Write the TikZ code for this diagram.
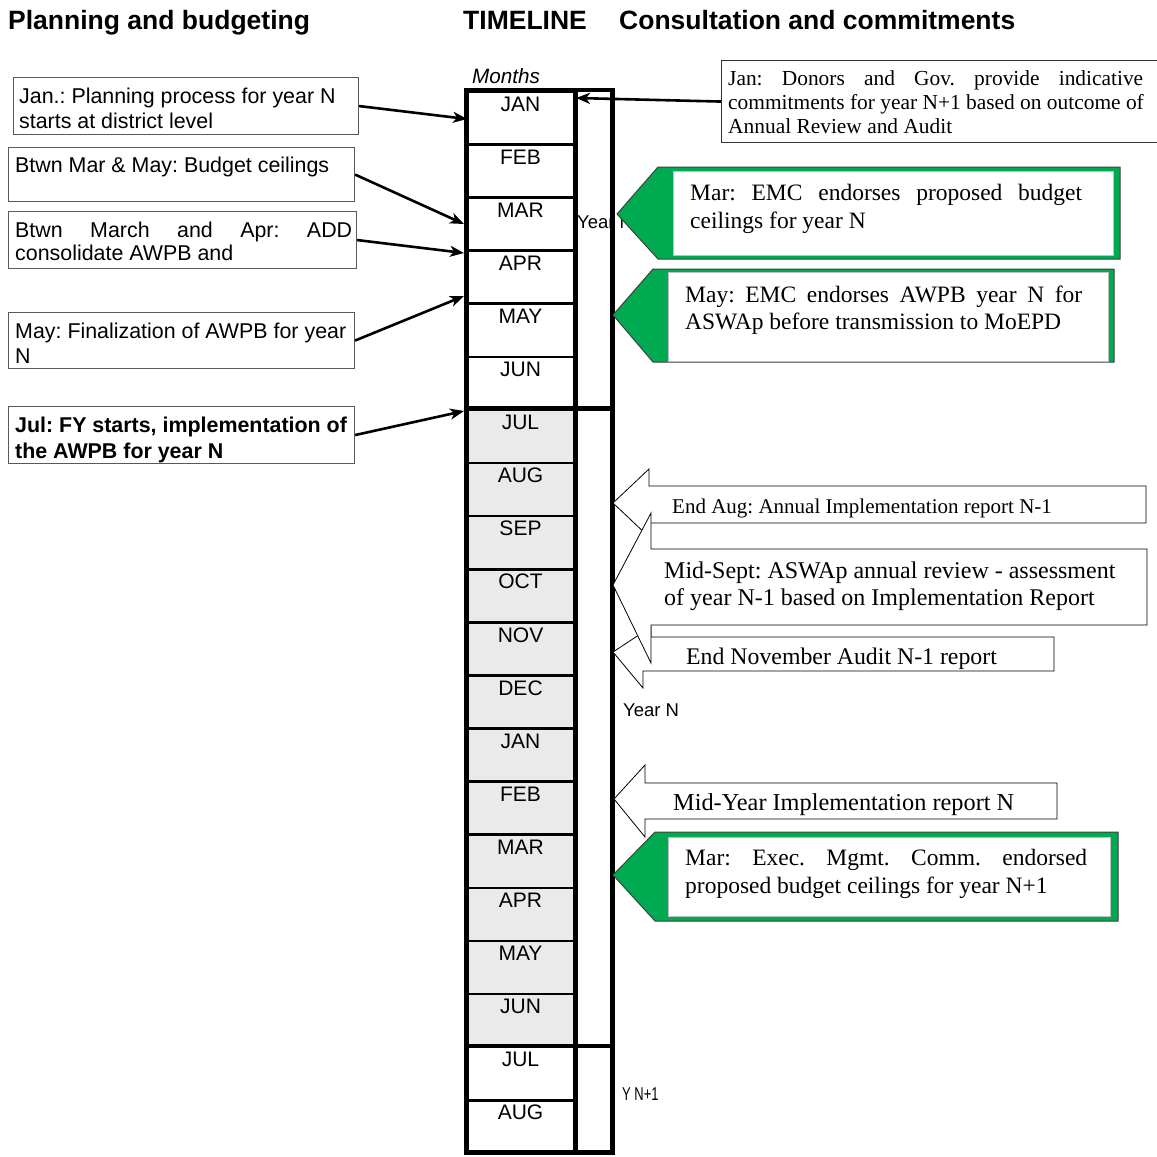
\documentclass[tikz,border=0pt]{standalone}
\usepackage{fontspec}
\usepackage{graphicx}
\setmainfont{Liberation Sans}
\newfontfamily\tnr{Liberation Serif}
\usetikzlibrary{arrows.meta}
\frenchspacing

\definecolor{callgreen}{RGB}{0,170,80}
\definecolor{fygrey}{RGB}{234,234,234}

% multi-line text whose baseline is the first line
\newcommand{\txtlines}[1]{\begin{tabular}[t]{@{}l@{}}#1\end{tabular}}
% a justified line of given width
\newcommand{\just}[2]{\makebox[#1][s]{#2}}

\tikzset{
  hdr/.style={font=\fontsize{26.5}{30}\selectfont\bfseries, anchor=base west, inner sep=0pt},
  lefttxt/.style={font=\fontsize{21.4}{25}\selectfont, anchor=base west, inner sep=0pt},
  leftbox/.style={draw=black!65, line width=1.1pt, anchor=north west, inner sep=0pt},
  serif/.style 2 args={font=\tnr\fontsize{#1}{#2}\selectfont, anchor=base west, inner sep=0pt},
  cell/.style={draw, line width=2.6pt, anchor=north west, minimum width=109pt,
               minimum height=53.1pt, inner sep=0pt},
  monthlbl/.style={font=\fontsize{21}{25}\selectfont, anchor=base, inner sep=0pt},
  yearlbl/.style={font=\fontsize{18.5}{22}\selectfont, anchor=base west, inner sep=0pt},
  conn/.style={line width=2.6pt, -{Stealth[length=14pt,width=11pt,inset=4pt]}},
  greenout/.style={fill=callgreen, draw=black!75, line width=1pt},
  greenin/.style={fill=white, draw=black!25, line width=1pt},
  whitecall/.style={fill=white, draw=black, line width=0.8pt},
}

\begin{document}
\begin{tikzpicture}[x=1pt, y=-1pt]
\useasboundingbox (0,0) rectangle (1157,1157);

% column headings
\node[hdr] (hplan) at (8,29.5) {Planning and budgeting};
\node[hdr] (htime) at (463,29.5) {TIMELINE};
\node[hdr] (hcons) at (619,29.5) {Consultation and commitments};

% ---------------- timeline ----------------
\node[font=\fontsize{20.7}{24}\selectfont\itshape, anchor=base west, inner sep=0pt] (months) at (472,83) {Months};
\fill[fygrey] (466,408.6) rectangle (575,1046.2);
\foreach \m [count=\k from 0] in {JAN,FEB,MAR,APR,MAY,JUN,JUL,AUG,SEP,OCT,NOV,DEC,JAN,FEB,MAR,APR,MAY,JUN,JUL,AUG}{
  \node[cell] (c\k) at (466,{90+53.1*\k}) {};
  \node[monthlbl] (ml\k) at (520.5,{111+53.1*\k}) {\m};
}
\node[yearlbl] (yr1) at (577,228) {Year N};
\node[yearlbl] (yr2) at (623,716) {Year N};
\node[yearlbl] (yr3) at (622,1100) {\scalebox{0.7}[1]{Y N+1}};

\draw[line width=3.2pt] (575,90) -- (575,1152.5);
\draw[line width=4.3pt] (466,408.6) -- (612.5,408.6);
\draw[line width=4.3pt] (466,1046.2) -- (612.5,1046.2);
\draw[line width=4.3pt] (466,90) rectangle (612.5,1152.5);

% ---------------- planning and budgeting ----------------
\node[leftbox, minimum width=345pt, minimum height=57pt] (b1) at (13,77) {};
\node[lefttxt] (b1t) at (19,103) {\txtlines{Jan.: Planning process for year N\\starts at district level}};
\node[leftbox, minimum width=346pt, minimum height=54pt] (b2) at (8,147) {};
\node[lefttxt] (b2t) at (15,172) {Btwn Mar \& May: Budget ceilings};
\node[leftbox, minimum width=348pt, minimum height=57pt] (b3) at (8,211) {};
\node[lefttxt, font=\fontsize{21.4}{23}\selectfont] (b3t) at (15,237) {\txtlines{\just{337pt}{Btwn March and Apr: ADD}\\consolidate AWPB and}};
\node[leftbox, minimum width=346pt, minimum height=56pt] (b4) at (8,312) {};
\node[lefttxt] (b4t) at (15,338) {\txtlines{May: Finalization of AWPB for year\\N}};
\node[leftbox, minimum width=346pt, minimum height=57pt] (b5) at (8,406) {};
\node[lefttxt, font=\fontsize{21.4}{26}\selectfont\bfseries] (b5t) at (15,432) {\txtlines{Jul: FY starts, implementation of\\the AWPB for year N}};

\coordinate (pJan) at (467,119);
\coordinate (pMar) at (464,224);
\coordinate (pApr) at (464,253);
\coordinate (pMay) at (464,296);
\coordinate (pJul) at (464,411);
\draw[conn] (b1.east) -- (pJan);
\draw[conn] (b2.east) -- (pMar);
\draw[conn] (b3.east) -- (pApr);
\draw[conn] (b4.east) -- (pMay);
\draw[conn] (b5.east) -- (pJul);

% ---------------- consultation and commitments ----------------
\node[leftbox, draw=black!80, minimum width=436pt, minimum height=82pt] (tr) at (721,60) {};
\node[serif={21.4}{24}] (trt) at (728,85) {\txtlines{\just{415pt}{Jan: Donors and Gov. provide indicative}\\commitments for year N+1 based on outcome of\\Annual Review and Audit}};
\coordinate (pDon) at (576,98);
\draw[conn] (tr.west) -- (pDon);

% green callouts, first half year
\filldraw[greenout] (617,214) -- (658,167) -- (1120,167) -- (1120,259) -- (658,259) -- cycle;
\filldraw[greenin] (673,171) rectangle (1113,255);
\node[serif={23.5}{28}] (g1t) at (690,200) {\txtlines{\just{392pt}{Mar: EMC endorses proposed budget}\\ceilings for year N}};

\filldraw[greenout] (613,315) -- (653,269) -- (1114,269) -- (1114,362) -- (653,362) -- cycle;
\filldraw[greenin] (668,272) rectangle (1108,361);
\node[serif={23.5}{27}] (g2t) at (685,302) {\txtlines{\just{397pt}{May: EMC endorses AWPB year N for}\\ASWAp before transmission to MoEPD}};

% white callouts, second half year
\filldraw[whitecall] (613,503) -- (649,469) -- (649,486) -- (1146,486) -- (1146,523) -- (649,523) -- (649,537) -- cycle;
\node[serif={21}{25}] (w1t) at (672,513) {End Aug: Annual Implementation report N-1};

\filldraw[whitecall] (613,652) -- (651,627) -- (651,637) -- (1054,637) -- (1054,671) -- (643,671) -- (643,688) -- cycle;
\node[serif={23.8}{27}] (w3t) at (686,664) {End November Audit N-1 report};

\filldraw[whitecall] (613,585) -- (651,513) -- (651,549) -- (1147,549) -- (1147,625) -- (651,625) -- (651,663) -- cycle;
\node[serif={24}{27}] (w2t) at (664,578) {\txtlines{Mid-Sept: ASWAp annual review - assessment\\of year N-1 based on Implementation Report}};

\filldraw[whitecall] (614,799) -- (645,765) -- (645,783) -- (1057,783) -- (1057,819) -- (645,819) -- (645,837) -- cycle;
\node[serif={24.3}{27}] (w4t) at (673,810) {Mid-Year Implementation report N};

% green callout, following March
\filldraw[greenout] (613,875) -- (655,832) -- (1118,832) -- (1118,921) -- (655,921) -- cycle;
\filldraw[greenin] (668,837) rectangle (1110,916);
\node[serif={23.5}{28}] (g3t) at (685,865) {\txtlines{\just{402pt}{Mar: Exec. Mgmt. Comm. endorsed}\\proposed budget ceilings for year N+1}};

\end{tikzpicture}
\end{document}
